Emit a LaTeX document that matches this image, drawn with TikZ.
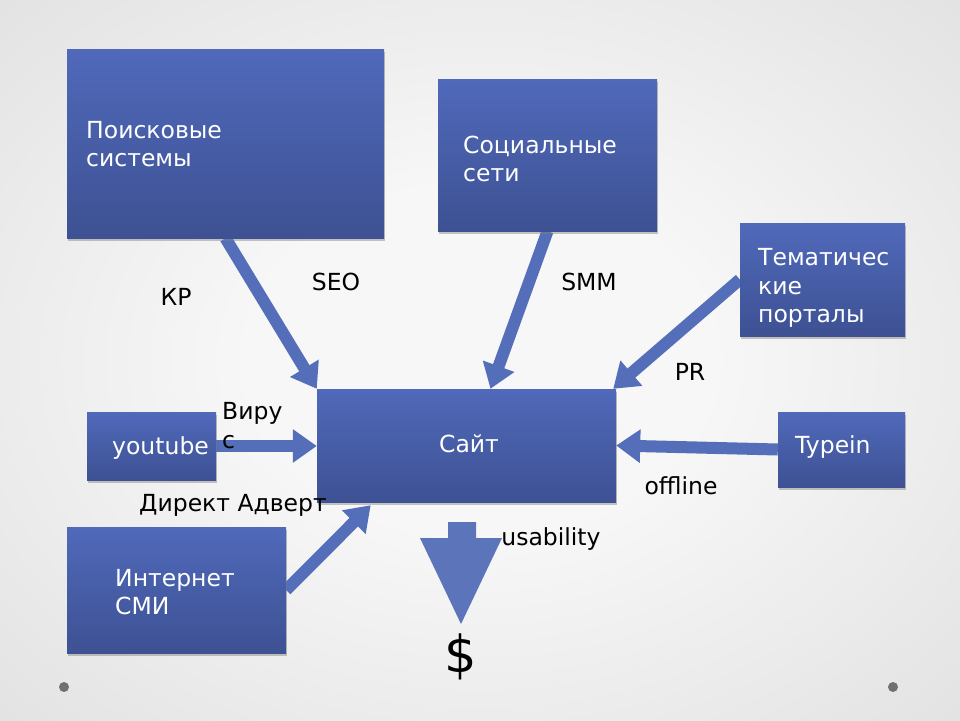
\documentclass[tikz,border=0pt]{standalone}
\usepackage{fontspec}
\setmainfont{DejaVu Sans}
\usetikzlibrary{arrows.meta,shadows,calc}
\definecolor{boxtop}{RGB}{80,105,186}
\definecolor{boxbot}{RGB}{61,81,147}
\definecolor{arrowblue}{RGB}{84,110,185}
\definecolor{bigarrow}{RGB}{92,116,186}
\definecolor{bgin}{RGB}{247,247,247}
\definecolor{bgout}{RGB}{214,214,214}
\definecolor{bgout2}{RGB}{204,204,204}
\definecolor{dotgray}{RGB}{112,112,112}
\pgfdeclareradialshading{bgshade}{\pgfpoint{0bp}{0bp}}{color(0bp)=(bgin); color(12bp)=(bgin); color(50bp)=(bgout); color(72bp)=(bgout2)}
\pgfdeclarelayer{bg}
\pgfsetlayers{bg,main}
\tikzset{
  box/.style={draw=none, top color=boxtop, bottom color=boxbot, inner sep=0pt,
    drop shadow={shadow xshift=0.5pt, shadow yshift=-3pt, fill=black!50, opacity=0.45}},
  boxtext/.style={text=white, align=left, inner sep=0pt, font=\fontsize{23.5}{28.5}\selectfont},
  lbl/.style={text=black, align=left, inner sep=0pt, font=\fontsize{23.5}{29}\selectfont},
  flow/.style={draw=arrowblue, line width=12pt, -{Triangle[length=24pt,width=32pt]}},
}
\begin{document}
\begin{tikzpicture}[x=1pt,y=-1pt]
\useasboundingbox (0,0) rectangle (960,720);
% boxes
\node[box, minimum width=317pt, minimum height=189pt] (search) at (225.5,143.5) {};
\node[box, minimum width=219pt, minimum height=152pt] (social) at (547.5,155) {};
\node[box, minimum width=165pt, minimum height=113pt] (portal) at (822.5,279.5) {};
\node[box, minimum width=299pt, minimum height=113pt] (site) at (466.5,445.5) {};
\node[box, minimum width=129pt, minimum height=68pt] (youtube) at (151.5,446) {};
\node[box, minimum width=127pt, minimum height=75pt] (typein) at (841.5,449.5) {};
\node[box, minimum width=219pt, minimum height=126pt] (smi) at (176.5,590) {};
% box texts
\node[boxtext, anchor=west] (searcht) at (86,144) {Поисковые\\системы};
\node[boxtext, anchor=west] (socialt) at (463,159) {Социальные\\сети};
\node[boxtext, anchor=west] (portalt) at (758,288) {Тематичес\\кие\\порталы};
\node[boxtext] (sitet) at (469,444) {Сайт};
\node[boxtext, anchor=west] (youtubet) at (112,448) {youtube};
\node[boxtext, anchor=west] (typeint) at (795,447) {Typein};
\node[boxtext, anchor=west] (smit) at (115,592) {Интернет\\СМИ};
% labels
\node[lbl] (kr) at (176,297) {КР};
\node[lbl] (seo) at (336,282) {SEO};
\node[lbl] (smm) at (589,282) {SMM};
\node[lbl] (pr) at (690,372) {PR};
\node[lbl, anchor=west] (viral) at (222,425.5) {Виру\\с};
\node[lbl] (direct) at (233,505) {Директ Адверт};
\node[lbl] (offline) at (681,486) {offline};
\node[lbl] (usab) at (551,539) {usability};
\node[text=black, inner sep=0pt, font=\fontsize{51}{51}\selectfont] (dollar) at (461,657) {\$};
\begin{pgfonlayer}{bg}
\shade[shading=bgshade] (0,0) rectangle (960,720);
\draw[flow] (search.south) -- (site.north west);
\draw[flow] (social.south) -- ($(site.north west)!0.58!(site.north east)$);
\draw[flow] (portal.west) -- ($(site.north east)+(-3,0)$);
\draw[flow] (youtube.east) -- (youtube.east -| site.west);
\draw[flow] (typein.west) -- (site.east);
\draw[flow] (smi.east) -- ($(site.south west)!0.18!(site.south east)+(0,3)$);
\end{pgfonlayer}
% big down arrow
\fill[bigarrow] (448,522) -- (476,522) -- (476,538) -- (502,538) -- (461,624) -- (420,538) -- (448,538) -- cycle;
% corner dots
\fill[dotgray] (64,687) circle (5pt);
\fill[dotgray] (893,687) circle (5pt);
\end{tikzpicture}
\end{document}
